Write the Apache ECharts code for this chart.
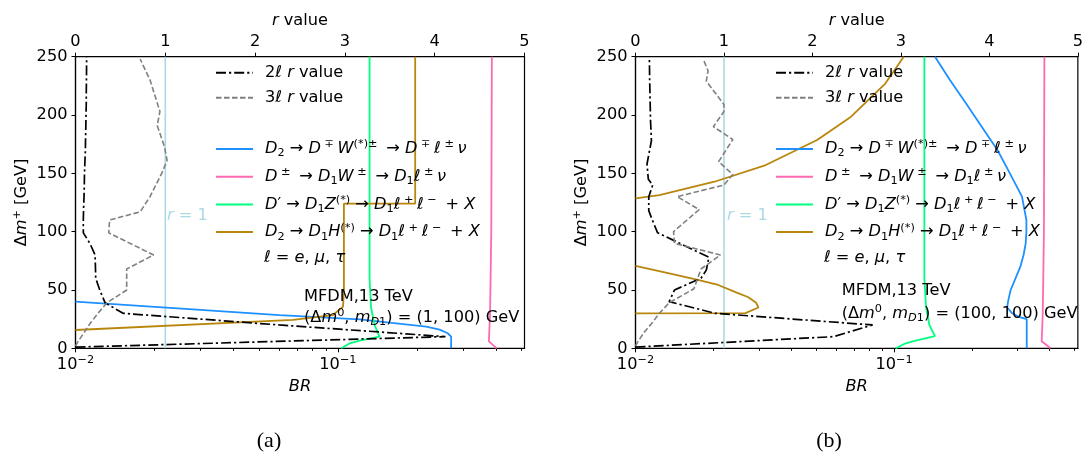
<!DOCTYPE html>
<html><head><meta charset="utf-8">
<script src="https://cdn.jsdelivr.net/npm/echarts@6/dist/echarts.min.js"></script>
<style>html,body{margin:0;padding:0;background:#fff}#c{width:1086px;height:454px}</style>
</head><body><div id="c"></div>
<script>
// ---------- tick values ----------
const rTicks = [0, 1, 2, 3, 4, 5];
const dmTicks = [0, 50, 100, 150, 200, 250];
const brMajorTicks = [0.01, 0.1];
const brMinorTicks = [0.02,0.03,0.04,0.05,0.06,0.07,0.08,0.09,0.2,0.3,0.4,0.5];

// ---------- panel (a) : [r value, Δm+] ----------
const a_r2l = [[0.00,1],[4.12,10],[2.27,20],[0.53,30],[0.33,39],[0.27,50],[0.225,60],[0.222,70],[0.218,80],[0.16,90],[0.087,99],[0.087,110],[0.09,120],[0.095,130],[0.098,140],[0.10,150],[0.105,160],[0.11,170],[0.112,180],[0.115,190],[0.117,200],[0.12,210],[0.12,220],[0.122,230],[0.123,240],[0.124,250]];
const a_r3l = [[0.00,2],[0.03,6],[0.10,14],[0.16,21],[0.25,30],[0.35,39],[0.57,50],[0.57,60],[0.57,68],[0.87,80],[0.37,99],[0.38,110],[0.72,117],[0.83,130],[0.96,150],[1.02,161],[0.99,173],[0.91,191],[0.94,203],[0.83,230],[0.72,248]];
// ---------- panel (a) : [BR, Δm+] ----------
const a_brW  = [[0.01,40],[0.060,28.5],[0.121,24.8],[0.217,18.5],[0.244,16],[0.262,12.9],[0.270,10],[0.270,0]];
const a_brWp = [[0.386,250],[0.384,100],[0.380,30],[0.376,6],[0.403,0]];
const a_brZ  = [[0.103,0],[0.111,4.3],[0.121,6.5],[0.144,10],[0.138,20],[0.1337,35],[0.132,60],[0.132,120],[0.132,250]];
const a_brH  = [[0.01,15.7],[0.0674,24.3],[0.0957,28.5],[0.1046,35.7],[0.1054,50],[0.1054,124],[0.197,124],[0.197,250]];

// ---------- panel (b) : [r value, Δm+] ----------
const b_r2l = [[0.00,1],[2.24,10],[2.68,20],[0.90,30],[0.38,40],[0.44,50],[0.74,60],[0.80,67],[0.83,78],[0.50,90],[0.25,99],[0.19,110],[0.15,118],[0.15,130],[0.195,140],[0.145,145],[0.13,158],[0.18,178],[0.17,195],[0.165,213],[0.16,230],[0.157,248]];
const b_r3l = [[0.00,2],[0.03,6],[0.10,14],[0.18,21],[0.27,30],[0.38,39],[0.66,51],[0.74,68],[0.96,80],[0.44,90],[0.43,100],[0.72,119],[0.47,130],[1.00,140],[1.10,149],[0.94,160],[1.10,179],[0.88,190],[1.00,203],[1.00,209],[0.80,229],[0.82,238],[0.77,247]];
// ---------- panel (b) : [BR, Δm+] ----------
const b_brW  = [[0.144,250],[0.1645,230],[0.1897,210],[0.2183,190],[0.2512,170],[0.2806,150],[0.3126,130],[0.325,110],[0.325,100],[0.323,90],[0.317,80],[0.308,70],[0.295,60],[0.2825,50],[0.276,40],[0.274,35],[0.2866,30],[0.3036,27],[0.326,25],[0.326,0]];
const b_brWp = [[0.3815,250],[0.380,100],[0.376,30],[0.3725,6],[0.403,0]];
const b_brZ  = [[0.1015,0],[0.111,4.3],[0.121,6.5],[0.144,10.5],[0.137,20],[0.133,35],[0.131,60],[0.131,250]];
const b_brHhi = [[0.01,128.6],[0.01237,131.4],[0.0202,142.8],[0.0319,157.1],[0.0504,178.6],[0.0682,198.6],[0.0925,227],[0.109,250]];
const b_brHlo = [[0.01,70.6],[0.0135,64.3],[0.0171,59.1],[0.0209,54.3],[0.0245,48],[0.0272,44],[0.0293,39],[0.0299,35],[0.0266,30.2],[0.01,30]];

const rOneLine = [[1,0],[1,250]];

// ---------- names / labels ----------
const N2L = '2ℓ r value', N3L = '3ℓ r value';
const NW = 'D2 → D∓W(*)± → D∓ℓ±ν', NWp = 'D± → D1W± → D1ℓ±ν', NZ = "D' → D1Z(*) → D1ℓ+ℓ− + X", NH = 'D2 → D1H(*) → D1ℓ+ℓ− + X';
const legendText = {};
legendText[N2L] = '{n|2}{i|ℓ r}{n| value}';
legendText[N3L] = '{n|3}{i|ℓ r}{n| value}';
legendText[NW]  = '{i|D}{sub|2}{n| → }{i|D}{sup| ∓ }{i|W}{sup|(*)± }{n| → }{i|D}{sup| ∓ }{i|ℓ}{sup| ± }{i|ν}';
legendText[NWp] = '{i|D}{sup| ± }{n| → }{i|D}{sub|1}{i|W}{sup| ± }{n| → }{i|D}{sub|1}{i|ℓ}{sup| ± }{i|ν}';
legendText[NZ]  = '{i|D}{n|′}{n| → }{i|D}{sub|1}{i|Z}{sup|(*)}{n| → }{i|D}{sub|1}{i|ℓ}{sup| + }{i|ℓ}{sup| − }{n| + }{i|X}';
legendText[NH]  = '{i|D}{sub|2}{n| → }{i|D}{sub|1}{i|H}{sup|(*)}{n| → }{i|D}{sub|1}{i|ℓ}{sup| + }{i|ℓ}{sup| − }{n| + }{i|X}';

const FONT = 'DejaVu Sans';
const FS = 16.2;
function mkRich(color, size) {
  size = size || FS; const s = Math.round(size * 0.7 * 10) / 10;
  const base = {fontFamily: FONT, color: color, fill: color};
  return {
    n:    Object.assign({}, base, {fontSize: size, lineHeight: 20}),
    i:    Object.assign({}, base, {fontSize: size, lineHeight: 20, fontStyle: 'italic'}),
    sup:  Object.assign({}, base, {fontSize: s, lineHeight: 9, verticalAlign: 'top'}),
    sub:  Object.assign({}, base, {fontSize: s, lineHeight: 9, verticalAlign: 'bottom'}),
    subi: Object.assign({}, base, {fontSize: s, lineHeight: 9, verticalAlign: 'bottom', fontStyle: 'italic'})
  };
}
const RICH = mkRich('#000');
const RICH_LB = mkRich('#add8e6');

const C_BLUE = '#1E90FF', C_PINK = '#FF69B4', C_GREEN = '#00FF7F', C_GOLD = '#B8860B', C_LB = '#ADD8E6';

const panels = [
  {left: 75.5, r2: a_r2l, r3: a_r3l, W: [a_brW], Wp: [a_brWp], Z: [a_brZ], H: [a_brH],
   txt1y: 296.7, txt2y: 318, txtx: 304, info: '(1, 100)', tag: '(a)', tagx: 269},
  {left: 635.5, r2: b_r2l, r3: b_r3l, W: [b_brW], Wp: [b_brWp], Z: [b_brZ], H: [b_brHhi, b_brHlo],
   txt1y: 291, txt2y: 314, txtx: 841.7, info: '(100, 100)', tag: '(b)', tagx: 829}
];

const grids = [], xAxes = [], yAxes = [], series = [], legends = [], graphics = [];
const axisLineStyle = {color: '#000', width: 1.2};
const tickStyle = {color: '#000', width: 1};
const labelBase = {fontFamily: FONT, fontSize: FS, color: '#000'};

panels.forEach(function (p, g) {
  grids.push({left: p.left, top: 56.7, width: 449, height: 291.6, show: true, borderColor: '#000', borderWidth: 1.2, backgroundColor: 'rgba(0,0,0,0)'});
  const xi = xAxes.length;
  // bottom log BR axis (major)
  xAxes.push({type: 'log', logBase: 10, gridIndex: g, position: 'bottom', min: 0.01, max: 0.514,
    axisLine: {show: true, lineStyle: axisLineStyle},
    axisTick: {show: true, length: 4, customValues: brMajorTicks, lineStyle: tickStyle},
    axisLabel: {customValues: brMajorTicks, margin: 6, rich: RICH,
      formatter: function (v) { return '{n|10}{sup|−' + Math.round(-Math.log10(v)) + '}'; }},
    splitLine: {show: false}, minorTick: {show: false},
    name: '{i|BR}', nameLocation: 'middle', nameGap: 28, nameTextStyle: {rich: RICH}});
  // top r value axis
  xAxes.push({type: 'value', gridIndex: g, position: 'top', min: 0, max: 5, interval: 1,
    axisLine: {show: true, lineStyle: axisLineStyle},
    axisTick: {show: true, length: 4, lineStyle: tickStyle},
    axisLabel: Object.assign({margin: 7}, labelBase),
    splitLine: {show: false},
    name: '{i|r}{n| value}', nameLocation: 'middle', nameGap: 25, nameTextStyle: {rich: RICH}});
  // bottom log minor ticks
  xAxes.push({type: 'log', logBase: 10, gridIndex: g, position: 'bottom', min: 0.01, max: 0.514,
    axisLine: {show: false},
    axisTick: {show: true, length: 2.5, customValues: brMinorTicks, lineStyle: tickStyle},
    axisLabel: {show: false}, splitLine: {show: false}});
  yAxes.push({type: 'value', gridIndex: g, min: 0, max: 250, interval: 50,
    axisLine: {show: true, lineStyle: axisLineStyle},
    axisTick: {show: true, length: 4, lineStyle: tickStyle},
    axisLabel: Object.assign({margin: 8}, labelBase),
    splitLine: {show: false},
    name: '{n|Δ}{i|m}{sup|+}{n| [GeV]}', nameLocation: 'middle', nameGap: 44, nameTextStyle: {rich: RICH}});

  const base = {type: 'line', symbol: 'none', showSymbol: false, clip: true, animation: false, silent: true};
  const xBR = xi, xR = xi + 1;
  series.push(Object.assign({}, base, {name: 'r = 1', xAxisIndex: xR, yAxisIndex: g, data: rOneLine, lineStyle: {color: C_LB, width: 1.6}, z: 1}));
  series.push(Object.assign({}, base, {name: N2L, xAxisIndex: xR, yAxisIndex: g, data: p.r2, lineStyle: {color: '#000', width: 1.7, type: [10, 3, 2.2, 3]}, itemStyle: {color: '#000'}, z: 3}));
  series.push(Object.assign({}, base, {name: N3L, xAxisIndex: xR, yAxisIndex: g, data: p.r3, lineStyle: {color: '#808080', width: 1.6, type: [5.5, 2.5]}, itemStyle: {color: '#808080'}, z: 3}));
  [[NW, p.W, C_BLUE], [NWp, p.Wp, C_PINK], [NZ, p.Z, C_GREEN], [NH, p.H, C_GOLD]].forEach(function (s) {
    s[1].forEach(function (d) {
      series.push(Object.assign({}, base, {name: s[0], xAxisIndex: xBR, yAxisIndex: g, data: d, lineStyle: {color: s[2], width: 1.8}, itemStyle: {color: s[2]}, z: 2}));
    });
  });

  const lx = p.left + 139.5;
  const legBase = {orient: 'vertical', left: lx, itemWidth: 37, itemHeight: 14, padding: 0, selectedMode: false,
    itemStyle: {opacity: 0, borderWidth: 0},
    textStyle: {rich: RICH, lineHeight: 20, padding: [0, 0, 0, 7]},
    formatter: function (name) { return legendText[name]; }};
  legends.push(Object.assign({}, legBase, {top: 62.7, itemGap: 5, data: [N2L, N3L]}));
  legends.push(Object.assign({}, legBase, {top: 139, itemGap: 7.7, data: [NW, NWp, NZ, NH]}));

  graphics.push({type: 'text', x: p.left + 91.5, y: 216, z: 100, style: {text: '{i|r}{n| = 1}', rich: RICH_LB, align: 'left', verticalAlign: 'middle'}});
  graphics.push({type: 'text', x: lx + 49, y: 257.5, z: 100, style: {text: '{i|ℓ}{n| = }{i|e}{n|, }{i|μ}{n|, }{i|τ}', rich: RICH, align: 'left', verticalAlign: 'middle'}});
  graphics.push({type: 'text', x: p.txtx, y: p.txt1y, z: 100, style: {text: '{n|MFDM,13 TeV}', rich: RICH, align: 'left', verticalAlign: 'middle'}});
  graphics.push({type: 'text', x: p.txtx, y: p.txt2y, z: 100, style: {text: '{n|(Δ}{i|m}{sup|0}{n|, }{i|m}{subi|D}{sub|1}{n|) = ' + p.info + ' GeV}', rich: RICH, align: 'left', verticalAlign: 'middle'}});
  graphics.push({type: 'text', x: p.tagx, y: 441, z: 100, style: {text: p.tag, fontFamily: 'Liberation Serif', fontSize: 22, fill: '#000', align: 'center', verticalAlign: 'middle'}});
});

const chart = echarts.init(document.getElementById('c'), null, {renderer: 'canvas'});
chart.setOption({
  animation: false,
  backgroundColor: '#fff',
  grid: grids, xAxis: xAxes, yAxis: yAxes, series: series, legend: legends, graphic: graphics
});
</script></body></html>
